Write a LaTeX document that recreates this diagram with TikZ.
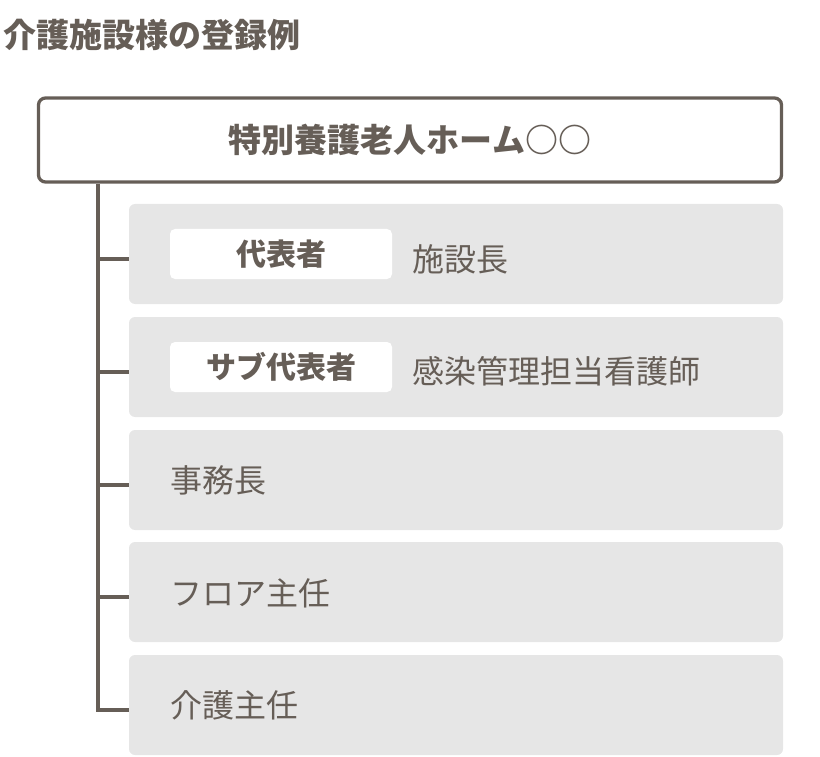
\documentclass[tikz,border=0pt]{standalone}
\usepackage{fontspec}
\setmainfont{Noto Sans CJK JP}
\usetikzlibrary{positioning}
\definecolor{ink}{HTML}{665E57}
\definecolor{pale}{HTML}{E6E6E6}
\tikzset{
  rowbox/.style={fill=pale, rounded corners=6pt, minimum width=654pt, minimum height=100pt, inner sep=0pt},
  tagbox/.style={fill=white, rounded corners=5pt, minimum width=222pt, minimum height=50pt, inner sep=0pt, text=ink, font=\bfseries\fontsize{30}{30}\selectfont},
  rowtext/.style={anchor=west, inner sep=0pt, text=ink, font=\fontsize{32}{32}\selectfont},
  conn/.style={draw=ink, line width=4pt}
}
\begin{document}
\begin{tikzpicture}[x=1pt,y=-1pt]
\useasboundingbox (0,0) rectangle (820,757);
\node[anchor=west, inner sep=0pt, text=ink, font=\bfseries\fontsize{33}{33}\selectfont] (title) at (3,35) {介護施設様の登録例};
\node[draw=ink, line width=3.3pt, rounded corners=7pt, minimum width=743pt, minimum height=84pt, text=ink, font=\bfseries\fontsize{33}{33}\selectfont] (top) at (410,140) {特別養護老人ホーム○○};
% rows
\node[rowbox] (r1) at (456,254) {};
\node[rowbox] (r2) at (456,367) {};
\node[rowbox] (r3) at (456,480) {};
\node[rowbox] (r4) at (456,592) {};
\node[rowbox] (r5) at (456,705) {};
\node[tagbox] (t1) at (281,254) {代表者};
\node[tagbox] (t2) at (281,367) {サブ代表者};
\node[rowtext] (v1) at (412,259) {施設長};
\node[rowtext] (v2) at (412,371) {感染管理担当看護師};
\node[rowtext] (v3) at (170,480) {事務長};
\node[rowtext] (v4) at (170,593) {フロア主任};
\node[rowtext] (v5) at (170,705) {介護主任};
% tree
\coordinate (trunk) at (97.5,0);
\draw[conn] (top.south -| trunk) |- ([yshift=-5pt]r5.west);
\draw[conn] ([yshift=-5pt]r1.west -| trunk) -- ([yshift=-5pt]r1.west);
\draw[conn] ([yshift=-5pt]r2.west -| trunk) -- ([yshift=-5pt]r2.west);
\draw[conn] ([yshift=-5pt]r3.west -| trunk) -- ([yshift=-5pt]r3.west);
\draw[conn] ([yshift=-5pt]r4.west -| trunk) -- ([yshift=-5pt]r4.west);
\end{tikzpicture}
\end{document}
